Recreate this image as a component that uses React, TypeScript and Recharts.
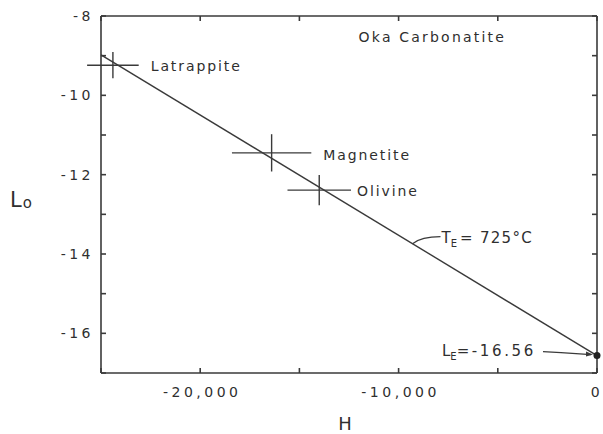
import React from 'react';
import { ScatterChart, Scatter, XAxis, YAxis, ErrorBar, ReferenceDot, Label } from 'recharts';

// mineral points (crosses = uncertainty in H and Lo)
const minerals = ['Latrappite', 'Magnetite', 'Olivine'];
const mineralH = [-24400, -16400, -14000];
const mineralL = [-9.24, -11.45, -12.39];
const mineralHErr = [1300, 2000, 1600];
const mineralLErr = [0.33, 0.47, 0.38];

// fitted line for T_E = 725 C
const fitH = [-25000, 0];
const fitL = [-8.98, -16.56];

// equilibrium point
const equilH = [0];
const equilL = [-16.56];

const xTicks = [-25000, -20000, -15000, -10000, -5000, 0];
const xLabelled = [-20000, -10000, 0];
const yTicks = [-17, -16, -15, -14, -13, -12, -11, -10, -9, -8];
const yLabelled = [-16, -14, -12, -10, -8];

const FONT = '"DejaVu Sans", Verdana, sans-serif';
const INK = '#2f2f2f';
const LINE = '#3a3a3a';

const mineralData = minerals.map((name, i) => ({
  name,
  H: mineralH[i],
  L: mineralL[i],
  hErr: mineralHErr[i],
  lErr: mineralLErr[i],
}));
const fitData = fitH.map((h, i) => ({ H: h, L: fitL[i] }));
const equilData = equilH.map((h, i) => ({ H: h, L: equilL[i] }));

// pixel nudges for the mineral labels (from the right end of the H bar)
const labelNudge: Record<string, { dx: number; dy: number }> = {
  Latrappite: { dx: 12, dy: 1 },
  Magnetite: { dx: 12, dy: 2 },
  Olivine: { dx: 6, dy: 1 },
};

const noShape = () => <g />;
const noTick = () => <g />;

const XTick = (props: any) => {
  const { x, y, payload } = props;
  if (!xLabelled.includes(payload.value)) return <g />;
  return (
    <text x={payload.value === 0 ? x : x + 2} y={y} dy={10} textAnchor="middle" fill={INK} fontSize={14} fontFamily={FONT} letterSpacing={3.5}>
      {payload.value.toLocaleString('en-US')}
    </text>
  );
};

const YTick = (props: any) => {
  const { x, y, payload } = props;
  if (!yLabelled.includes(payload.value)) return <g />;
  return (
    <text x={x} y={y} dy={5} textAnchor="end" fill={INK} fontSize={14} fontFamily={FONT} letterSpacing={3.5}>
      {payload.value}
    </text>
  );
};

const textStyle = { fill: INK, fontFamily: FONT, letterSpacing: 1.9 };

const App: React.FC = () => {
  return (
    <div style={{ position: 'absolute', left: 0, top: 0, background: '#fff' }}>
      {/* let the Latrappite bar run past the left frame, as in the original */}
      <style>{'.recharts-scatter, .recharts-errorBars, .recharts-errorBar { clip-path: none !important; }'}</style>
      <ScatterChart width={603} height={434} margin={{ top: 15, right: 5, bottom: 0, left: 0 }}>
        <XAxis
          dataKey="H"
          type="number"
          domain={[-25000, 0]}
          allowDataOverflow
          ticks={xTicks}
          tick={<XTick />}
          tickSize={-5}
          tickMargin={19}
          height={61}
          stroke={LINE}
          strokeWidth={1.6}
          interval={0}
        >
          <Label
            content={(p: any) => (
              <text x={p.viewBox.x + p.viewBox.width / 2 - 4} y={p.viewBox.y + 57} textAnchor="middle" fill={INK} fontSize={18} fontFamily={FONT}>
                H
              </text>
            )}
          />
        </XAxis>
        {/* top frame: an axis of height 1 (height 0 is not drawn) */}
        <XAxis
          xAxisId="top"
          dataKey="H"
          orientation="top"
          type="number"
          domain={[-25000, 0]}
          allowDataOverflow
          ticks={xTicks}
          tick={noTick}
          tickSize={-5}
          height={1}
          stroke={LINE}
          strokeWidth={1.6}
          interval={0}
        />
        <YAxis
          dataKey="L"
          type="number"
          domain={[-17, -8]}
          allowDataOverflow
          ticks={yTicks}
          tick={<YTick />}
          tickSize={-5}
          tickMargin={12}
          width={101}
          stroke={LINE}
          strokeWidth={1.6}
          interval={0}
        >
          <Label
            content={(p: any) => (
              <text x={10} y={p.viewBox.y + 191} fill={INK} fontFamily={FONT}>
                <tspan fontSize={21}>L</tspan>
                <tspan fontSize={15} dx={1} dy={1}>o</tspan>
              </text>
            )}
          />
        </YAxis>
        {/* right frame */}
        <YAxis
          yAxisId="right"
          dataKey="L"
          orientation="right"
          type="number"
          domain={[-17, -8]}
          allowDataOverflow
          ticks={yTicks}
          tick={noTick}
          tickSize={-5}
          width={1}
          stroke={LINE}
          strokeWidth={1.6}
          interval={0}
        />

        {/* invisible series that gives the top and right frame axes a domain */}
        <Scatter data={fitData} xAxisId="top" yAxisId="right" shape={noShape} isAnimationActive={false} />

        <Scatter
          data={fitData}
          line={{ stroke: LINE, strokeWidth: 1.4 }}
          shape={noShape}
          isAnimationActive={false}
        />

        <Scatter data={mineralData} shape={noShape} isAnimationActive={false}>
          <ErrorBar dataKey="hErr" direction="x" width={0} stroke={LINE} strokeWidth={1.4} />
          <ErrorBar dataKey="lErr" direction="y" width={0} stroke={LINE} strokeWidth={1.4} />
        </Scatter>

        <Scatter
          data={equilData}
          shape={(p: any) => <circle cx={p.cx} cy={p.cy} r={3.5} fill="#222" />}
          isAnimationActive={false}
        />

        {mineralData.map((m) => (
          <ReferenceDot
            key={m.name}
            x={m.H + m.hErr}
            y={m.L}
            r={0}
            fill="none"
            stroke="none"
            label={{
              content: (p: any) => (
                <text
                  x={p.viewBox.x + labelNudge[m.name].dx}
                  y={p.viewBox.y + labelNudge[m.name].dy}
                  dy={5}
                  fontSize={14}
                  {...textStyle}
                >
                  {m.name}
                </text>
              ),
            }}
          />
        ))}

        <ReferenceDot
          x={-8300}
          y={-8.53}
          r={0}
          fill="none"
          stroke="none"
          label={{
            content: (p: any) => (
              <text x={p.viewBox.x} y={p.viewBox.y} dy={5} textAnchor="middle" fontSize={14} {...textStyle} letterSpacing={2.2}>
                Oka Carbonatite
              </text>
            ),
          }}
        />

        {/* T_E leader, anchored on the fitted line */}
        <ReferenceDot
          x={-9300}
          y={-16.56 + 9300 * ((16.56 - 8.98) / 25000)}
          r={0}
          fill="none"
          stroke="none"
          label={{
            content: (p: any) => {
              const x = p.viewBox.x;
              const y = p.viewBox.y;
              return (
                <g>
                  <path d={`M${x} ${y} Q${x + 9} ${y - 7} ${x + 28} ${y - 7}`} fill="none" stroke={LINE} strokeWidth={1.2} />
                  <text x={x + 29} y={y - 1} fill={INK} fontFamily={FONT} fontSize={15}>
                    <tspan>T</tspan>
                    <tspan fontSize={10} dy={4}>E</tspan>
                    <tspan dy={-4} dx={3} letterSpacing={1.3}>= 725°C</tspan>
                  </text>
                </g>
              );
            },
          }}
        />

        {/* L_E label with arrow to the equilibrium point */}
        <ReferenceDot
          x={equilH[0]}
          y={equilL[0]}
          r={0}
          fill="none"
          stroke="none"
          label={{
            content: (p: any) => {
              const x = p.viewBox.x;
              const y = p.viewBox.y;
              return (
                <g>
                  <text x={x - 155} y={y} fill={INK} fontFamily={FONT} fontSize={15}>
                    <tspan>L</tspan>
                    <tspan fontSize={10} dy={4}>E</tspan>
                    <tspan dy={-4} letterSpacing={2.6}>=-16.56</tspan>
                  </text>
                  <path d={`M${x - 54} ${y - 4} L${x - 36} ${y - 3} L${x - 6} ${y - 1}`} fill="none" stroke={LINE} strokeWidth={1.2} />
                  <path d={`M${x - 4} ${y - 1} L${x - 11} ${y - 4} L${x - 11} ${y + 1} Z`} fill={LINE} />
                </g>
              );
            },
          }}
        />
      </ScatterChart>
    </div>
  );
};

export default App;
